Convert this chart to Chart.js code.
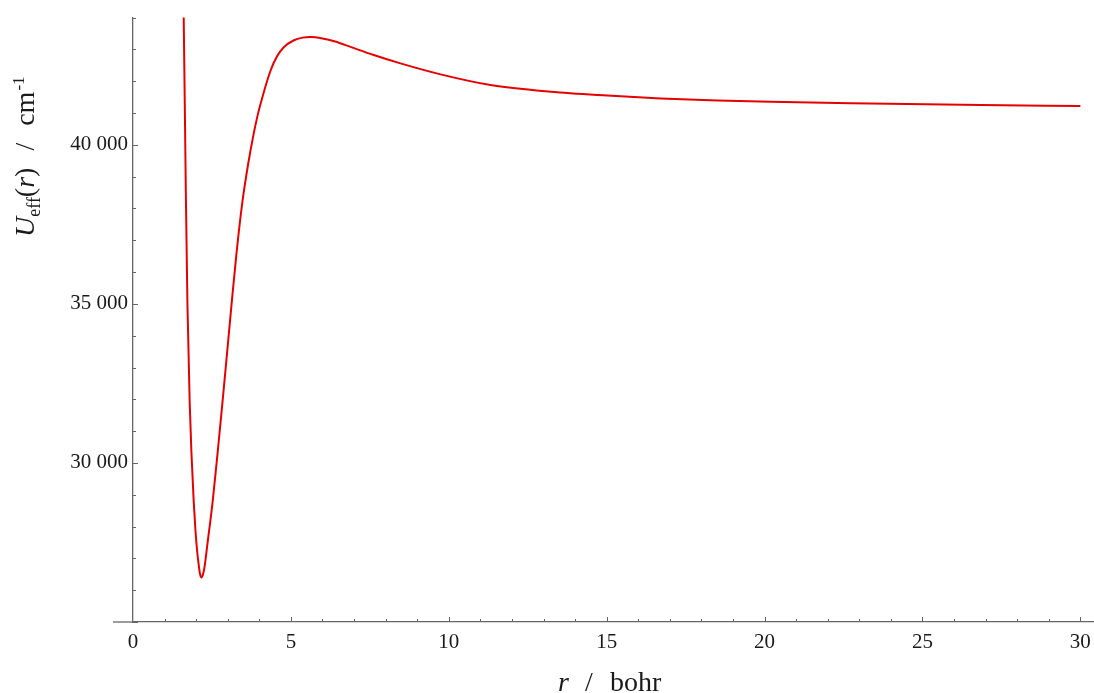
<!DOCTYPE html>
<html>
<head>
<meta charset="utf-8">
<title>Effective potential</title>
<script src="https://cdn.jsdelivr.net/npm/chart.js@4.4.1/dist/chart.umd.min.js"></script>
<style>
  html, body { margin: 0; padding: 0; background: #fff; }
  #wrap { width: 1094px; height: 693px; position: relative; }
</style>
</head>
<body>
<div id="wrap"><canvas id="chart" width="1094" height="693"></canvas></div>
<script>
// Internuclear distance r (bohr)
const rValues = [
  1.580, 1.605, 1.640, 1.678, 1.723, 1.795, 1.849, 1.922, 1.979, 2.030,
  2.084, 2.120, 2.160, 2.210, 2.264, 2.369, 2.524, 2.682, 2.834, 2.980,
  3.125, 3.277, 3.455, 3.645, 3.816, 3.952, 4.117, 4.354, 4.566, 4.775,
  5.082, 5.367, 5.620, 6.000, 6.400, 6.890, 7.600, 8.470, 9.740, 11.32,
  13.23, 15.02, 16.71, 18.50, 20.19, 23.36, 26.84, 30.00
];

// Effective potential U_eff(r) (cm^-1)
const uValues = [
  46200, 44060, 41260, 38140, 35030, 31910, 30350, 28800, 27860, 27240,
  26770, 26520, 26400, 26475, 26724, 27550, 28800, 30350, 31910, 33470,
  35030, 36590, 38140, 39390, 40320, 40950, 41570, 42330, 42790, 43070,
  43280, 43370, 43390, 43345, 43250, 43080, 42830, 42560, 42215, 41880,
  41670, 41550, 41460, 41395, 41352, 41300, 41252, 41218
];

// Labelled ticks
const xTickValues = [0, 5, 10, 15, 20, 25, 30];
const xTickLabels = ['0', '5', '10', '15', '20', '25', '30'];
const yTickValues = [30000, 35000, 40000];
const yTickLabels = ['30 000', '35 000', '40 000'];

const SERIF = '"Liberation Serif", "DejaVu Serif", serif';
const AXIS_COLOR = '#666';
const TEXT_COLOR = '#1a1a1a';

// Inward minor/major tick marks, the x-axis stub left of the origin and the typeset axis titles
const axisDecor = {
  id: 'axisDecor',
  afterDraw(chart) {
    const ctx = chart.ctx;
    const xs = chart.scales.x;
    const ys = chart.scales.y;
    const x0 = xs.getPixelForValue(0);
    const yb = chart.chartArea.bottom;

    ctx.save();
    ctx.strokeStyle = AXIS_COLOR;
    ctx.lineWidth = 1.3;
    ctx.beginPath();
    ctx.moveTo(113, yb);
    ctx.lineTo(x0, yb);
    ctx.stroke();

    ctx.lineWidth = 1;
    ctx.beginPath();
    for (let v = 25000; v <= 44000; v += 1000) {
      const py = Math.round(ys.getPixelForValue(v)) + 0.5;
      const len = v % 5000 === 0 ? 5 : 3;
      ctx.moveTo(x0, py);
      ctx.lineTo(x0 + len, py);
    }
    for (let v = 1; v <= 30; v += 1) {
      const px = Math.round(xs.getPixelForValue(v)) + 0.5;
      const len = v % 5 === 0 ? 5 : 3;
      ctx.moveTo(px, yb);
      ctx.lineTo(px, yb - len);
    }
    ctx.stroke();
    ctx.restore();

    // y-axis title: U_eff(r) / cm^-1, read bottom to top
    const segsY = [
      { t: 'U', f: 'italic 28px ' + SERIF, dy: 0 },
      { t: 'eff', f: '18px ' + SERIF, dy: 6 },
      { t: '(', f: '28px ' + SERIF, dy: 0 },
      { t: 'r', f: 'italic 28px ' + SERIF, dy: 0 },
      { t: ')', f: '28px ' + SERIF, dy: 0, gap: 17 },
      { t: '/', f: '28px ' + SERIF, dy: 0, gap: 17 },
      { t: 'cm', f: '28px ' + SERIF, dy: 0, gap: 1 },
      { t: '-1', f: '17px ' + SERIF, dy: -10 }
    ];
    ctx.save();
    ctx.fillStyle = TEXT_COLOR;
    ctx.textBaseline = 'alphabetic';
    ctx.textAlign = 'left';
    ctx.translate(34, 0);
    ctx.rotate(-Math.PI / 2);
    let lx = -237;
    for (const s of segsY) {
      ctx.font = s.f;
      ctx.fillText(s.t, lx, s.dy);
      lx += ctx.measureText(s.t).width + (s.gap || 0);
    }
    ctx.restore();

    // x-axis title: r / bohr
    ctx.save();
    ctx.fillStyle = TEXT_COLOR;
    ctx.textBaseline = 'alphabetic';
    ctx.textAlign = 'left';
    ctx.font = 'italic 28px ' + SERIF;
    ctx.fillText('r', 558, 691);
    ctx.font = '28px ' + SERIF;
    ctx.fillText('/', 585, 691);
    ctx.fillText('bohr', 610, 691);
    ctx.restore();
  }
};

new Chart(document.getElementById('chart'), {
  type: 'line',
  data: {
    datasets: [{
      data: rValues.map((r, i) => ({ x: r, y: uValues[i] })),
      borderColor: '#e60000',
      borderWidth: 2,
      pointRadius: 0,
      fill: false,
      cubicInterpolationMode: 'monotone'
    }]
  },
  options: {
    responsive: false,
    animation: false,
    events: [],
    layout: { padding: { left: 0, right: 1, top: 12, bottom: 0 } },
    plugins: { legend: { display: false }, tooltip: { enabled: false } },
    scales: {
      x: {
        type: 'linear',
        min: 0,
        max: 30.4,
        grid: { display: false },
        border: { display: true, color: AXIS_COLOR, width: 1.3 },
        afterBuildTicks: s => { s.ticks = xTickValues.map(v => ({ value: v })); },
        afterFit: s => { s.height = 71; },
        ticks: {
          autoSkip: false,
          maxRotation: 0,
          padding: 0,
          color: TEXT_COLOR,
          font: { family: SERIF, size: 21 },
          callback: (v, i) => xTickLabels[i]
        }
      },
      y: {
        type: 'linear',
        position: 'left',
        min: 25000,
        max: 44000,
        grid: { display: false, tickLength: 0 },
        border: { display: true, color: AXIS_COLOR, width: 1.3 },
        afterBuildTicks: s => { s.ticks = yTickValues.map(v => ({ value: v })); },
        afterFit: s => { s.width = 133; },
        ticks: {
          autoSkip: false,
          padding: 5,
          color: TEXT_COLOR,
          font: { family: SERIF, size: 21 },
          callback: (v, i) => yTickLabels[i]
        }
      }
    }
  },
  plugins: [axisDecor]
});
</script>
</body>
</html>
